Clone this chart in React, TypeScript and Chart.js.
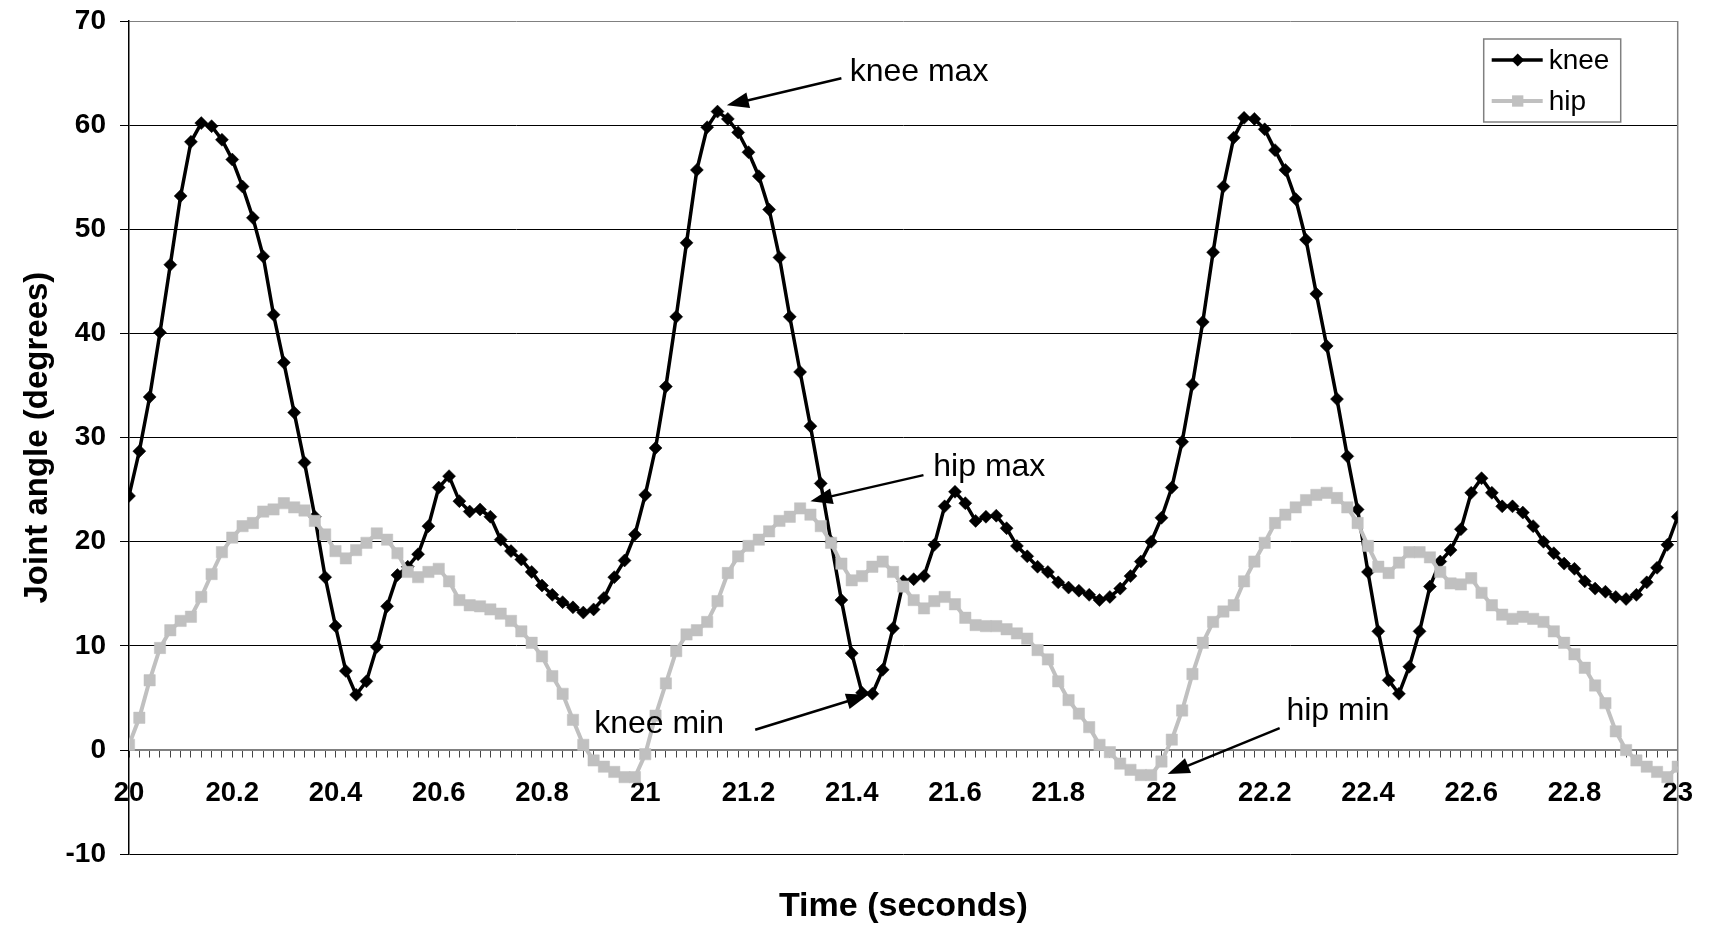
import React, { useEffect, useRef } from 'react';
import { Chart, registerables } from 'chart.js';

Chart.register(...registerables);

// ---- Data (sampled every 0.02 s from 20.00 s to 23.00 s) ----
const START_TIME = 20;
const SAMPLE_STEP = 0.02;

const kneeAngles = [
  24.4, 28.7, 33.9, 40.1, 46.6, 53.2, 58.4, 60.2, 59.9, 58.6,
  56.7, 54.1, 51.1, 47.4, 41.8, 37.2, 32.4, 27.6, 22.4, 16.6,
  11.9, 7.6, 5.3, 6.6, 9.9, 13.8, 16.8, 17.6, 18.8, 21.5,
  25.2, 26.3, 23.9, 22.9, 23.1, 22.4, 20.2, 19.1, 18.3, 17.1,
  15.8, 14.9, 14.2, 13.7, 13.2, 13.5, 14.6, 16.6, 18.2, 20.7,
  24.5, 29.0, 34.9, 41.6, 48.7, 55.7, 59.8, 61.3, 60.6, 59.3,
  57.4, 55.1, 51.9, 47.3, 41.6, 36.3, 31.1, 25.6, 20.0, 14.4,
  9.3, 5.5, 5.4, 7.7, 11.7, 16.2, 16.4, 16.7, 19.7, 23.4,
  24.8, 23.7, 22.0, 22.4, 22.5, 21.3, 19.6, 18.6, 17.6, 17.1,
  16.1, 15.6, 15.3, 14.9, 14.4, 14.7, 15.5, 16.7, 18.1, 20.0,
  22.3, 25.2, 29.6, 35.1, 41.1, 47.8, 54.1, 58.8, 60.7, 60.6,
  59.6, 57.6, 55.7, 52.9, 49.0, 43.8, 38.8, 33.7, 28.2, 23.1,
  17.1, 11.4, 6.7, 5.4, 8.0, 11.4, 15.7, 18.1, 19.2, 21.2,
  24.7, 26.1, 24.7, 23.4, 23.4, 22.8, 21.5, 20.0, 18.9, 17.9,
  17.4, 16.2, 15.5, 15.2, 14.7, 14.5, 14.9, 16.1, 17.5, 19.7,
  22.4,
];

const hipAngles = [
  0.5, 3.1, 6.7, 9.8, 11.5, 12.4, 12.8, 14.7, 16.9, 19.0,
  20.4, 21.5, 21.8, 22.9, 23.1, 23.7, 23.3, 23.0, 22.0, 20.7,
  19.1, 18.4, 19.2, 19.9, 20.8, 20.2, 18.9, 17.1, 16.6, 17.1,
  17.4, 16.2, 14.4, 13.9, 13.8, 13.5, 13.1, 12.4, 11.4, 10.3,
  9.0, 7.1, 5.4, 2.9, 0.5, -1.0, -1.6, -2.1, -2.6, -2.6,
  -0.4, 3.3, 6.4, 9.5, 11.1, 11.5, 12.3, 14.3, 17.0, 18.6,
  19.6, 20.2, 21.0, 22.0, 22.4, 23.2, 22.6, 21.5, 19.9, 17.9,
  16.3, 16.7, 17.6, 18.1, 17.1, 15.7, 14.4, 13.6, 14.3, 14.7,
  14.0, 12.7, 12.0, 11.9, 11.9, 11.6, 11.2, 10.7, 9.6, 8.7,
  6.6, 4.8, 3.5, 2.2, 0.5, -0.2, -1.3, -1.9, -2.4, -2.4,
  -1.1, 1.0, 3.8, 7.3, 10.3, 12.3, 13.3, 13.9, 16.2, 18.1,
  19.9, 21.8, 22.6, 23.3, 24.0, 24.5, 24.7, 24.2, 23.3, 21.8,
  19.6, 17.6, 17.0, 18.0, 19.0, 19.0, 18.5, 17.1, 16.0, 15.9,
  16.5, 15.1, 13.9, 13.0, 12.6, 12.8, 12.6, 12.3, 11.4, 10.3,
  9.2, 7.9, 6.2, 4.5, 1.8, 0.0, -1.0, -1.6, -2.1, -2.6,
  -1.6,
];

const seriesNames = ['knee', 'hip'];
const xAxisRange = [20, 23];
const xMinorStep = 0.02;
const xLabelStep = 0.2;
const yAxisRange = [-10, 70];
const yStep = 10;
const xTitle = 'Time (seconds)';
const yTitle = 'Joint angle (degrees)';

// annotation texts with text anchor (left-middle) and arrow start/tip, in data units
const annotationTexts = ['knee max', 'hip max', 'knee min', 'hip min'];
const annotationTextAt = [[21.396, 65.1], [21.558, 27.2], [20.901, 2.5], [22.242, 3.7]];
const annotationArrowFrom = [[21.38, 64.5], [21.539, 26.4], [21.213, 1.95], [22.229, 2.1]];
const annotationArrowTo = [[21.158, 61.9], [21.32, 23.9], [21.432, 5.3], [22.012, -2.3]];

const FONT = "'Liberation Sans', Arial, Helvetica, sans-serif";

function toPoints(values: number[]) {
  return values.map((v, i) => ({ x: +(START_TIME + i * SAMPLE_STEP).toFixed(2), y: v }));
}

function drawArrow(ctx: CanvasRenderingContext2D, x1: number, y1: number, x2: number, y2: number) {
  const ang = Math.atan2(y2 - y1, x2 - x1);
  const head = 22;
  const hw = 8;
  const bx = x2 - head * Math.cos(ang);
  const by = y2 - head * Math.sin(ang);
  ctx.beginPath();
  ctx.moveTo(x1, y1);
  ctx.lineTo(bx + 2 * Math.cos(ang), by + 2 * Math.sin(ang));
  ctx.lineWidth = 2.5;
  ctx.strokeStyle = '#000';
  ctx.stroke();
  ctx.beginPath();
  ctx.moveTo(x2, y2);
  ctx.lineTo(bx + hw * Math.sin(ang), by - hw * Math.cos(ang));
  ctx.lineTo(bx - hw * Math.sin(ang), by + hw * Math.cos(ang));
  ctx.closePath();
  ctx.fillStyle = '#000';
  ctx.fill();
}

const frameAndNotes = {
  id: 'frameAndNotes',
  beforeDatasetsDraw(chart: any) {
    const { ctx, chartArea } = chart;
    ctx.save();
    ctx.strokeStyle = '#808080';
    ctx.lineWidth = 1.5;
    ctx.beginPath();
    ctx.moveTo(chartArea.right, chartArea.top);
    ctx.lineTo(chartArea.right, chartArea.bottom);
    ctx.stroke();
    ctx.restore();
  },
  afterDatasetsDraw(chart: any) {
    const { ctx, chartArea, scales } = chart;
    const xs = scales.x;
    const ys = scales.y;
    ctx.save();
    // annotations
    ctx.textAlign = 'left';
    ctx.textBaseline = 'middle';
    annotationTexts.forEach((t, i) => {
      const [tx, ty] = annotationTextAt[i];
      ctx.fillStyle = '#000';
      ctx.font = `32px ${FONT}`;
      ctx.fillText(t, xs.getPixelForValue(tx), ys.getPixelForValue(ty));
      const [fx, fy] = annotationArrowFrom[i];
      const [ax, ay] = annotationArrowTo[i];
      drawArrow(ctx, xs.getPixelForValue(fx), ys.getPixelForValue(fy), xs.getPixelForValue(ax), ys.getPixelForValue(ay));
    });

    // legend box
    const bx = chartArea.right - 194;
    const by = chartArea.top + 18;
    const bw = 137;
    const bh = 83;
    ctx.fillStyle = '#fff';
    ctx.fillRect(bx, by, bw, bh);
    ctx.strokeStyle = '#808080';
    ctx.lineWidth = 1.5;
    ctx.strokeRect(bx, by, bw, bh);
    const rows = [by + 21, by + 62];
    chart.data.datasets.forEach((ds: any, i: number) => {
      const y = rows[i];
      ctx.strokeStyle = ds.borderColor;
      ctx.lineWidth = ds.borderWidth;
      ctx.beginPath();
      ctx.moveTo(bx + 8, y);
      ctx.lineTo(bx + 59, y);
      ctx.stroke();
      ctx.fillStyle = ds.pointBackgroundColor;
      const cx = bx + 34;
      if (ds.pointStyle === 'rectRot') {
        const r = ds.pointRadius;
        ctx.beginPath();
        ctx.moveTo(cx, y - r);
        ctx.lineTo(cx + r, y);
        ctx.lineTo(cx, y + r);
        ctx.lineTo(cx - r, y);
        ctx.closePath();
        ctx.fill();
      } else {
        const s = ds.pointRadius * Math.SQRT1_2;
        ctx.fillRect(cx - s, y - s, 2 * s, 2 * s);
      }
      ctx.fillStyle = '#000';
      ctx.font = `28px ${FONT}`;
      ctx.textAlign = 'left';
      ctx.textBaseline = 'middle';
      ctx.fillText(ds.label, bx + 65, y + 1);
    });
    ctx.restore();
  },
};

export default function App() {
  const canvasRef = useRef<HTMLCanvasElement | null>(null);

  useEffect(() => {
    const canvas = canvasRef.current;
    if (!canvas) return;
    Chart.defaults.font.family = FONT;

    const chart = new Chart(canvas, {
      type: 'line',
      data: {
        datasets: [
          {
            label: seriesNames[0],
            data: toPoints(kneeAngles),
            borderColor: '#000000',
            backgroundColor: '#000000',
            pointBackgroundColor: '#000000',
            pointBorderColor: '#000000',
            pointStyle: 'rectRot',
            pointRadius: 6.5,
            pointBorderWidth: 0.5,
            borderWidth: 3.5,
            tension: 0,
            order: 1,
          } as any,
          {
            label: seriesNames[1],
            data: toPoints(hipAngles),
            borderColor: '#c0c0c0',
            backgroundColor: '#c0c0c0',
            pointBackgroundColor: '#c0c0c0',
            pointBorderColor: '#c0c0c0',
            pointStyle: 'rect',
            pointRadius: 8,
            pointBorderWidth: 0.5,
            borderWidth: 4,
            tension: 0,
            order: 0,
          } as any,
        ],
      },
      options: {
        animation: false,
        responsive: false,
        maintainAspectRatio: false,
        layout: { padding: { left: 0, right: 32, top: 21, bottom: 0 } },
        plugins: {
          legend: { display: false },
          tooltip: { enabled: false },
          title: {
            display: true,
            text: xTitle,
            position: 'bottom',
            fullSize: false,
            color: '#000',
            font: { size: 34, weight: 'bold', family: FONT },
            padding: { top: 32, bottom: 5 },
          },
        },
        scales: {
          x: {
            type: 'linear',
            min: xAxisRange[0],
            max: xAxisRange[1],
            position: { y: 0 } as any,
            ticks: {
              stepSize: xMinorStep,
              autoSkip: false,
              maxRotation: 0,
              minRotation: 0,
              maxTicksLimit: 1000,
              color: '#000',
              padding: 20,
              font: { size: 27.5, weight: 'bold', family: FONT },
              callback: (value: any) => {
                const v = Number(value);
                const k = Math.round(v / xLabelStep);
                if (Math.abs(v / xLabelStep - k) < 1e-6) {
                  return String(+(k * xLabelStep).toFixed(1));
                }
                return '';
              },
            },
            grid: {
              drawOnChartArea: false,
              drawTicks: true,
              tickLength: 7,
              tickColor: '#444',
              lineWidth: 1,
            },
            border: { display: true, color: '#808080', width: 1.5 },
          },
          y: {
            type: 'linear',
            min: yAxisRange[0],
            max: yAxisRange[1],
            ticks: {
              stepSize: yStep,
              color: '#000',
              padding: 14,
              font: { size: 28, weight: 'bold', family: FONT },
            },
            grid: {
              color: (c: any) => (c.tick && (c.tick.value === 0 || c.tick.value === 70) ? '#808080' : '#000'),
              lineWidth: 1,
              tickLength: 9,
              tickColor: '#000',
              drawTicks: true,
            },
            border: { display: true, color: '#000', width: 1.5 },
            title: {
              display: true,
              text: yTitle,
              color: '#000',
              font: { size: 33, weight: 'bold', family: FONT },
              padding: { top: 18, bottom: 0 },
            },
            afterFit: (scale: any) => {
              scale.width = 129;
              scale.paddingTop = 0;
              scale.paddingBottom = 0;
            },
          },
        },
      },
      plugins: [frameAndNotes],
    });

    return () => chart.destroy();
  }, []);

  return (
    <div style={{ position: 'fixed', left: 0, top: 0, width: 1713, height: 932, background: '#fff' }}>
      <canvas ref={canvasRef} width={1713} height={932} style={{ display: 'block', width: 1713, height: 932 }} />
    </div>
  );
}
